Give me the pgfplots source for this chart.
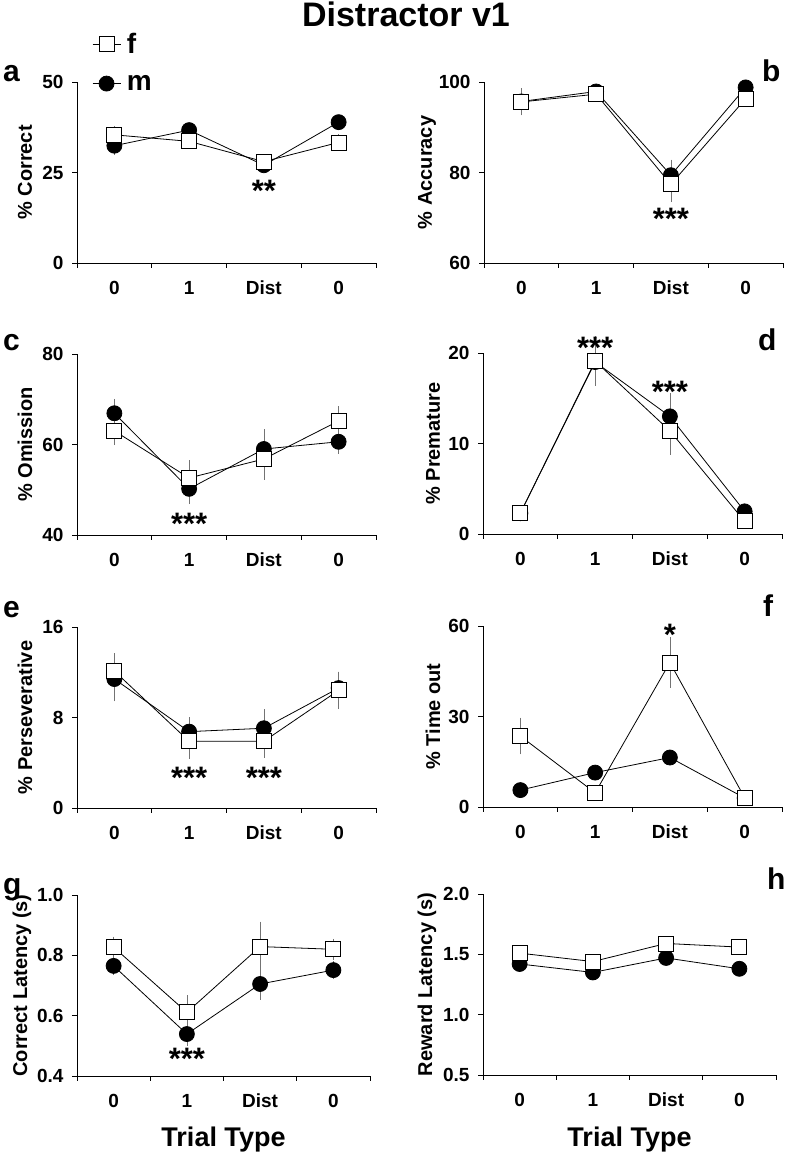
\documentclass[border=0pt]{standalone}
\usepackage{pgfplots}
\pgfplotsset{compat=1.18}
\usepackage{fontspec}
\setmainfont{Liberation Sans}
\newcommand\fs[1]{\fontsize{#1}{#1}\selectfont}

\tikzset{sig/.style={font=\fs{31}\bfseries, anchor=north, inner sep=0pt}}
\pgfplotsset{
  panel/.style={
    scale only axis, width=299pt, height=181pt, clip=false,
    anchor=south west,
    axis x line=bottom, axis y line=left,
    axis line style={-, line width=0.8pt, black},
    xmin=-0.5, xmax=3.5,
    xtick={-0.5,0.5,1.5,2.5,3.5},
    xticklabels={0,1,Dist,0},
    x tick label as interval,
    tick align=outside,
    major tick length=5pt,
    tick style={line width=0.8pt, black},
    ticklabel style={font=\fs{19}\bfseries},
    xticklabel style={yshift=-9pt, text height=13.6pt, text depth=0pt},
    yticklabel style={xshift=-5pt, /pgf/number format/assume math mode=true},
    label style={font=\fs{20}\bfseries},
    ylabel style={at={(axis description cs:#1,0.5)}, anchor=center},
  },
  mser/.style={black, line width=0.8pt, mark=*, mark size=7.5pt,
    mark options={solid, fill=black, draw=black},
    error bars/.cd, y dir=both, y explicit, error mark=-,
    error bar style={black!55, line width=0.6pt},
    error mark options={black!55, mark size=3pt, line width=0.6pt}},
  fser/.style={black, line width=0.8pt, mark=square*, mark size=7.5pt,
    mark options={solid, fill=white, draw=black},
    error bars/.cd, y dir=both, y explicit, error mark=-,
    error bar style={black!55, line width=0.6pt},
    error mark options={black!55, mark size=3pt, line width=0.6pt}},
}

\begin{document}
\begin{tikzpicture}
\path[use as bounding box] (0pt,0pt) rectangle (787pt,1155pt);

% Title
\node[anchor=base, font=\fs{34}\bfseries] at (406pt,1128pt) {Distractor v1};

% ---------- a ----------
\begin{axis}[panel=-0.174, at={(77pt,892pt)},
  ymin=0, ymax=50, ytick={0,25,50}, ylabel={\% Correct},
  reverse legend,
  legend style={at={(axis description cs:0.05,1.28)}, anchor=north west,
    draw=none, fill=none, font=\fs{28}\bfseries, row sep=16pt, column sep=4pt, inner sep=0pt},
  legend cell align=left,
  legend image code/.code={\draw[mark repeat=2,mark phase=2] plot coordinates {(0pt,0pt)(14pt,0pt)(28pt,0pt)};}]
\addplot[mser] table[x=x,y=y,y error=e] {
x y e
0 32.4 1.8
1 36.7 1.0
2 27.0 1.0
3 38.9 1.0
};
\addlegendentry{m}
\addplot[fser] table[x=x,y=y,y error=e] {
x y e
0 35.4 1.5
1 33.6 1.2
2 28.0 1.2
3 33.3 1.5
};
\addlegendentry{f}
\node[sig] at (axis cs:2,22.9) {**};
\end{axis}

% ---------- b ----------
\begin{axis}[panel=-0.191, at={(484pt,892pt)},
  ymin=60, ymax=100, ytick={60,80,100}, ylabel={\% Accuracy}]
\addplot[mser] table[x=x,y=y,y error=e] {
x y e
0 95.7 1.5
1 97.9 0.5
2 79.4 2.8
3 98.8 0.5
};
\addplot[fser] table[x=x,y=y,y error=e] {
x y e
0 95.6 2.3
1 97.3 0.8
2 77.4 3.3
3 96.3 0.8
};
\node[sig] at (axis cs:2,72.2) {***};
\end{axis}

% ---------- c ----------
\begin{axis}[panel=-0.174, at={(77pt,620pt)},
  ymin=40, ymax=80, ytick={40,60,80}, ylabel={\% Omission}]
\addplot[mser] table[x=x,y=y,y error=e] {
x y e
0 66.9 2.5
1 50.2 2.7
2 59.0 3.7
3 60.6 2.0
};
\addplot[fser] table[x=x,y=y,y error=e] {
x y e
0 63.0 2.5
1 52.6 3.3
2 56.8 3.9
3 65.2 2.6
};
\node[sig] at (axis cs:1,44.9) {***};
\end{axis}

% ---------- d ----------
\begin{axis}[panel=-0.167, at={(483pt,621pt)},
  ymin=0, ymax=20, ytick={0,10,20}, ylabel={\% Premature}]
\addplot[mser] table[x=x,y=y,y error=e] {
x y e
0 2.3 0.3
1 19.0 2.2
2 13.0 2.2
3 2.5 0.3
};
\addplot[fser] table[x=x,y=y,y error=e] {
x y e
0 2.3 0.3
1 19.1 2.4
2 11.4 2.3
3 1.4 0.3
};
\node[sig] at (axis cs:1,21.8) {***};
\node[sig] at (axis cs:2,16.9) {***};
\end{axis}

% ---------- e ----------
\begin{axis}[panel=-0.174, at={(77pt,347pt)},
  ymin=0, ymax=16, ytick={0,8,16}, ylabel={\% Perseverative}]
\addplot[mser] table[x=x,y=y,y error=e] {
x y e
0 11.4 1.7
1 6.75 1.0
2 7.05 1.4
3 10.6 1.2
};
\addplot[fser] table[x=x,y=y,y error=e] {
x y e
0 12.1 1.3
1 5.9 1.3
2 5.9 1.2
3 10.4 1.4
};
\node[sig] at (axis cs:1,3.6) {***};
\node[sig] at (axis cs:2,3.6) {***};
\end{axis}

% ---------- f ----------
\begin{axis}[panel=-0.167, at={(483pt,348pt)},
  ymin=0, ymax=60, ytick={0,30,60}, ylabel={\% Time out}]
\addplot[mser] table[x=x,y=y,y error=e] {
x y e
0 5.6 0.5
1 11.4 0.8
2 16.4 1.0
3 3.0 0.5
};
\addplot[fser] table[x=x,y=y,y error=e] {
x y e
0 23.5 5.1
1 4.7 0.8
2 47.9 7.4
3 3.1 0.8
};
\node[sig] at (axis cs:2,60.7) {*};
\end{axis}

% ---------- g ----------
\begin{axis}[panel=-0.188, width=293pt, at={(77pt,79pt)},
  ymin=0.4, ymax=1.0, ytick={0.4,0.6,0.8,1.0}, ylabel={Correct Latency (s)},
  yticklabel style={/pgf/number format/.cd, fixed, fixed zerofill, precision=1}]
\addplot[mser] table[x=x,y=y,y error=e] {
x y e
0 0.765 0.020
1 0.539 0.030
2 0.705 0.042
3 0.751 0.020
};
\addplot[fser] table[x=x,y=y,y error=e] {
x y e
0 0.827 0.025
1 0.611 0.046
2 0.829 0.073
3 0.820 0.025
};
\node[sig] at (axis cs:1,0.493) {***};
\end{axis}

% ---------- h ----------
\begin{axis}[panel=-0.191, width=293pt, at={(483pt,80pt)},
  ymin=0.5, ymax=2.0, ytick={0.5,1.0,1.5,2.0}, ylabel={Reward Latency (s)},
  yticklabel style={/pgf/number format/.cd, fixed, fixed zerofill, precision=1}]
\addplot[mser] table[x=x,y=y,y error=e] {
x y e
0 1.42 0.03
1 1.35 0.03
2 1.47 0.03
3 1.38 0.03
};
\addplot[fser] table[x=x,y=y,y error=e] {
x y e
0 1.51 0.03
1 1.44 0.03
2 1.59 0.03
3 1.56 0.03
};
\end{axis}

% Panel letters
\begin{scope}[every node/.style={font=\fs{30}\bfseries, anchor=base west, inner sep=0pt}]
\node at (3pt,1073pt) {a};
\node at (762pt,1073pt) {b};
\node at (3pt,804pt) {c};
\node at (758pt,804pt) {d};
\node at (3pt,537pt) {e};
\node at (763pt,538pt) {f};
\node at (3pt,260pt) {g};
\node at (767pt,265pt) {h};
\end{scope}

% x axis titles
\node[anchor=base, font=\fs{27}\bfseries] at (223.5pt,9pt) {Trial Type};
\node[anchor=base, font=\fs{27}\bfseries] at (629.5pt,9pt) {Trial Type};
\end{tikzpicture}
\end{document}
